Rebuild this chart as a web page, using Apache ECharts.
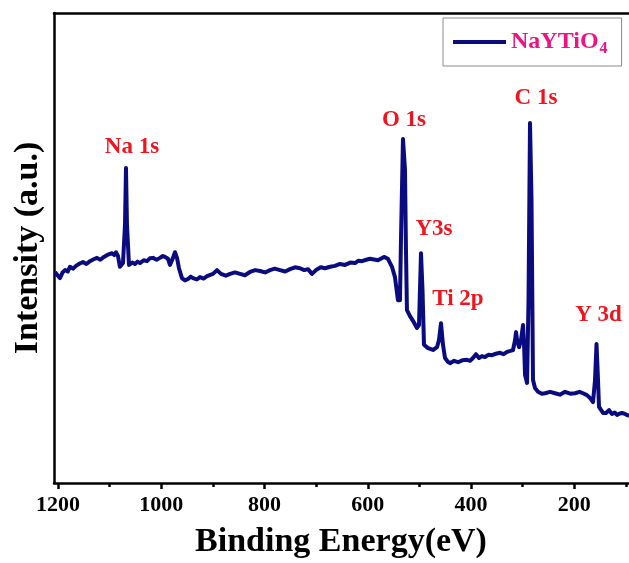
<!DOCTYPE html>
<html>
<head>
<meta charset="utf-8">
<title>NaYTiO4 XPS survey</title>
<script src="https://cdn.jsdelivr.net/npm/echarts@6/dist/echarts.min.js"></script>
<style>
  html, body { margin: 0; padding: 0; background: #ffffff; }
  #chart { width: 629px; height: 563px; }
</style>
</head>
<body>
<div id="chart"></div>
<script>
// Survey spectrum of NaYTiO4: binding energy (eV) and intensity (a.u.)
const bindingEnergy = [
  1205.8, 1201.0, 1196.1, 1191.0, 1186.4, 1181.0, 1176.8, 1171.0, 1165.1, 1158.0,
  1151.6, 1145.0, 1138.0, 1131.0, 1124.5, 1118.0, 1110.9, 1103.0, 1095.4, 1091.0,
  1087.7, 1083.8, 1080.0, 1074.1, 1070.2, 1068.3, 1066.4, 1062.5, 1056.0, 1050.9,
  1046.0, 1041.2, 1034.0, 1027.6, 1022.0, 1016.0, 1009.0, 1002.5, 997.0, 992.8,
  987.0, 983.1, 977.3, 973.4, 969.5, 965.7, 959.9, 954.0, 948.2, 943.0,
  938.6, 931.0, 925.0, 918.0, 911.4, 905.0, 899.8, 892.1, 884.3, 875.0,
  866.9, 857.0, 847.5, 838.0, 828.2, 818.0, 808.8, 799.0, 789.4, 780.0,
  770.1, 760.0, 750.7, 741.0, 731.3, 723.0, 715.8, 708.1, 700.4, 691.0,
  682.9, 673.0, 663.6, 654.0, 644.2, 634.0, 624.8, 618.0, 611.3, 603.0,
  595.8, 580.3, 568.7, 561.0, 553.2, 547.4, 541.6, 537.7, 535.8, 531.9,
  528.0, 526.1, 524.2, 518.3, 512.5, 504.8, 500.9, 499.0, 497.0, 494.1,
  491.2, 483.4, 473.8, 466.0, 462.2, 458.3, 454.4, 450.5, 445.0, 440.8,
  433.0, 425.3, 417.0, 407.9, 402.0, 396.3, 390.5, 384.7, 379.0, 373.1,
  366.0, 359.5, 352.0, 344.0, 337.0, 330.4, 324.0, 318.8, 314.9, 313.0,
  311.0, 307.1, 303.3, 299.4, 297.4, 295.5, 291.6, 288.8, 285.9, 283.0,
  280.1, 276.2, 270.4, 263.0, 256.9, 247.0, 237.5, 228.0, 218.1, 208.0,
  198.8, 190.0, 183.3, 175.6, 169.7, 163.9, 160.0, 157.1, 154.2, 152.3,
  144.5, 138.7, 132.9, 127.1, 122.0, 117.4, 112.0, 107.7, 101.9, 97.0,
  92.1
];
const intensity = [
  44.9, 44.2, 43.6, 44.8, 45.3, 45.0, 46.0, 45.6, 46.2, 46.7,
  47.0, 46.6, 47.2, 47.6, 47.9, 47.5, 48.1, 48.6, 48.9, 48.5,
  49.1, 48.3, 46.0, 46.8, 55.0, 67.0, 55.0, 46.4, 46.9, 46.6,
  47.1, 46.8, 47.4, 47.2, 47.8, 47.9, 47.5, 47.9, 48.3, 48.1,
  47.7, 46.4, 47.9, 49.1, 47.9, 45.7, 43.6, 43.1, 43.4, 43.9,
  43.6, 43.3, 43.8, 43.5, 44.0, 44.3, 44.5, 45.3, 44.5, 44.1,
  44.5, 44.8, 44.5, 44.2, 44.9, 45.3, 45.1, 44.8, 45.3, 45.6,
  45.3, 45.0, 45.5, 45.9, 45.7, 45.3, 45.5, 44.5, 45.3, 45.9,
  45.7, 46.0, 46.2, 46.6, 46.4, 46.9, 46.8, 47.3, 47.2, 47.5,
  47.7, 47.4, 48.1, 47.7, 46.0, 43.8, 38.9, 38.9, 51.7, 73.2,
  66.6, 49.6, 36.8, 35.5, 34.5, 33.0, 33.6, 41.1, 48.9, 41.1,
  29.4, 28.7, 28.3, 28.9, 30.4, 34.0, 29.4, 26.6, 25.8, 25.5,
  26.0, 25.7, 26.1, 26.2, 26.0, 26.6, 27.4, 26.6, 27.0, 26.8,
  27.3, 27.2, 27.5, 27.7, 27.4, 27.9, 28.1, 28.3, 30.4, 32.1,
  30.4, 28.9, 30.4, 33.6, 29.4, 23.0, 21.3, 38.9, 76.6, 60.2,
  21.9, 20.2, 19.4, 19.0, 19.1, 19.4, 19.1, 18.8, 19.4, 19.0,
  19.1, 19.4, 19.1, 18.7, 18.1, 17.2, 21.9, 29.6, 21.9, 16.2,
  14.9, 14.9, 15.5, 14.7, 15.0, 14.5, 14.8, 14.9, 14.7, 14.4,
  14.3
];

// Assigned photoelectron lines (label text and peak energy)
const peakNames = ['Na 1s', 'O 1s', 'Y3s', 'Ti 2p', 'C 1s', 'Y 3d'];
const peakEnergies = [1068.3, 531.9, 497.0, 458.3, 285.9, 157.1];

// Axis range and ticks
const energyMin = 94.2;
const energyMax = 1207.7;
const majorTicks = [200, 400, 600, 800, 1000, 1200];
const minorTicks = [100, 300, 500, 700, 900, 1100];

const seriesName = 'NaYTiO4';

const spectrum = bindingEnergy.map((e, i) => [e, intensity[i]]);

// label offsets (px) from each peak top
const labelOffsets = [[6, -21], [1, -19], [13, -24], [17, -24], [6, -25], [2, -29]];

const peakMarks = peakNames.map((name, i) => {
  const idx = bindingEnergy.indexOf(peakEnergies[i]);
  return {
    name: name,
    coord: [peakEnergies[i], intensity[idx]],
    label: { offset: labelOffsets[i] }
  };
});

const serif = '"Liberation Serif", "Times New Roman", "DejaVu Serif", serif';

const chart = echarts.init(document.getElementById('chart'), null, { renderer: 'canvas' });

const baseX = {
  type: 'value',
  inverse: true,
  min: energyMin,
  max: energyMax,
  splitLine: { show: false }
};

chart.setOption({
  backgroundColor: '#ffffff',
  animation: false,
  grid: { left: 54, top: 13, bottom: 80, right: 0, containLabel: false },
  legend: {
    left: 443,
    top: 18,
    padding: [9, 14, 9, 10],
    borderColor: '#8a8a8a',
    borderWidth: 1,
    itemWidth: 53,
    itemHeight: 4,
    itemGap: 0,
    icon: 'rect',
    data: [seriesName],
    formatter: () => '{m|NaYTiO}{s|4}',
    textStyle: {
      rich: {
        m: { fontFamily: serif, fontWeight: 'bold', fontSize: 24, color: '#ee1381', lineHeight: 30, verticalAlign: 'middle' },
        s: { fontFamily: serif, fontWeight: 'bold', fontSize: 16, color: '#ee1381', lineHeight: 30, padding: [14, 0, 0, 1], verticalAlign: 'middle' }
      }
    }
  },
  xAxis: [
    Object.assign({}, baseX, {
      position: 'bottom',
      axisLine: { show: true, onZero: false, lineStyle: { color: '#000', width: 2.5 } },
      axisTick: { show: true, inside: false, length: 6, customValues: majorTicks, lineStyle: { color: '#000', width: 2.5 } },
      axisLabel: {
        show: true,
        customValues: majorTicks,
        formatter: v => String(v),
        margin: 11,
        fontFamily: serif,
        fontWeight: 'bold',
        fontSize: 22,
        color: '#000'
      }
    }),
    // shorter ticks at the odd hundreds
    Object.assign({}, baseX, {
      position: 'bottom',
      axisLine: { show: false, onZero: false },
      axisTick: { show: true, inside: false, length: 4, customValues: minorTicks, lineStyle: { color: '#000', width: 2.5 } },
      axisLabel: { show: false }
    }),
    // top frame
    Object.assign({}, baseX, {
      position: 'top',
      axisLine: { show: true, onZero: false, lineStyle: { color: '#000', width: 2.5 } },
      axisTick: { show: false },
      axisLabel: { show: false }
    })
  ],
  yAxis: {
    type: 'value',
    min: 0,
    max: 100,
    axisLine: { show: true, onZero: false, lineStyle: { color: '#000', width: 2.5 } },
    axisTick: { show: false },
    axisLabel: { show: false },
    splitLine: { show: false }
  },
  graphic: [
    {
      type: 'text',
      x: 341,
      y: 542,
      style: {
        text: 'Binding Energy(eV)',
        fontFamily: serif,
        fontWeight: 'bold',
        fontSize: 34,
        fill: '#000',
        align: 'center',
        verticalAlign: 'middle'
      }
    },
    {
      type: 'text',
      x: 28,
      y: 248,
      rotation: Math.PI / 2,
      style: {
        text: 'Intensity (a.u.)',
        fontFamily: serif,
        fontWeight: 'bold',
        fontSize: 34,
        fill: '#000',
        align: 'center',
        verticalAlign: 'middle'
      }
    }
  ],
  series: [
    {
      name: seriesName,
      type: 'line',
      xAxisIndex: 0,
      data: spectrum,
      showSymbol: false,
      symbol: 'none',
      smooth: false,
      clip: true,
      lineStyle: { color: '#0b0b80', width: 4, join: 'round' },
      itemStyle: { color: '#0b0b80' },
      markPoint: {
        symbol: 'circle',
        symbolSize: 0,
        silent: true,
        label: {
          show: true,
          position: 'inside',
          formatter: p => p.name,
          fontFamily: serif,
          fontWeight: 'bold',
          fontSize: 23,
          color: '#f0141e',
          align: 'center',
          verticalAlign: 'middle'
        },
        data: peakMarks
      }
    }
  ]
});
</script>
</body>
</html>
